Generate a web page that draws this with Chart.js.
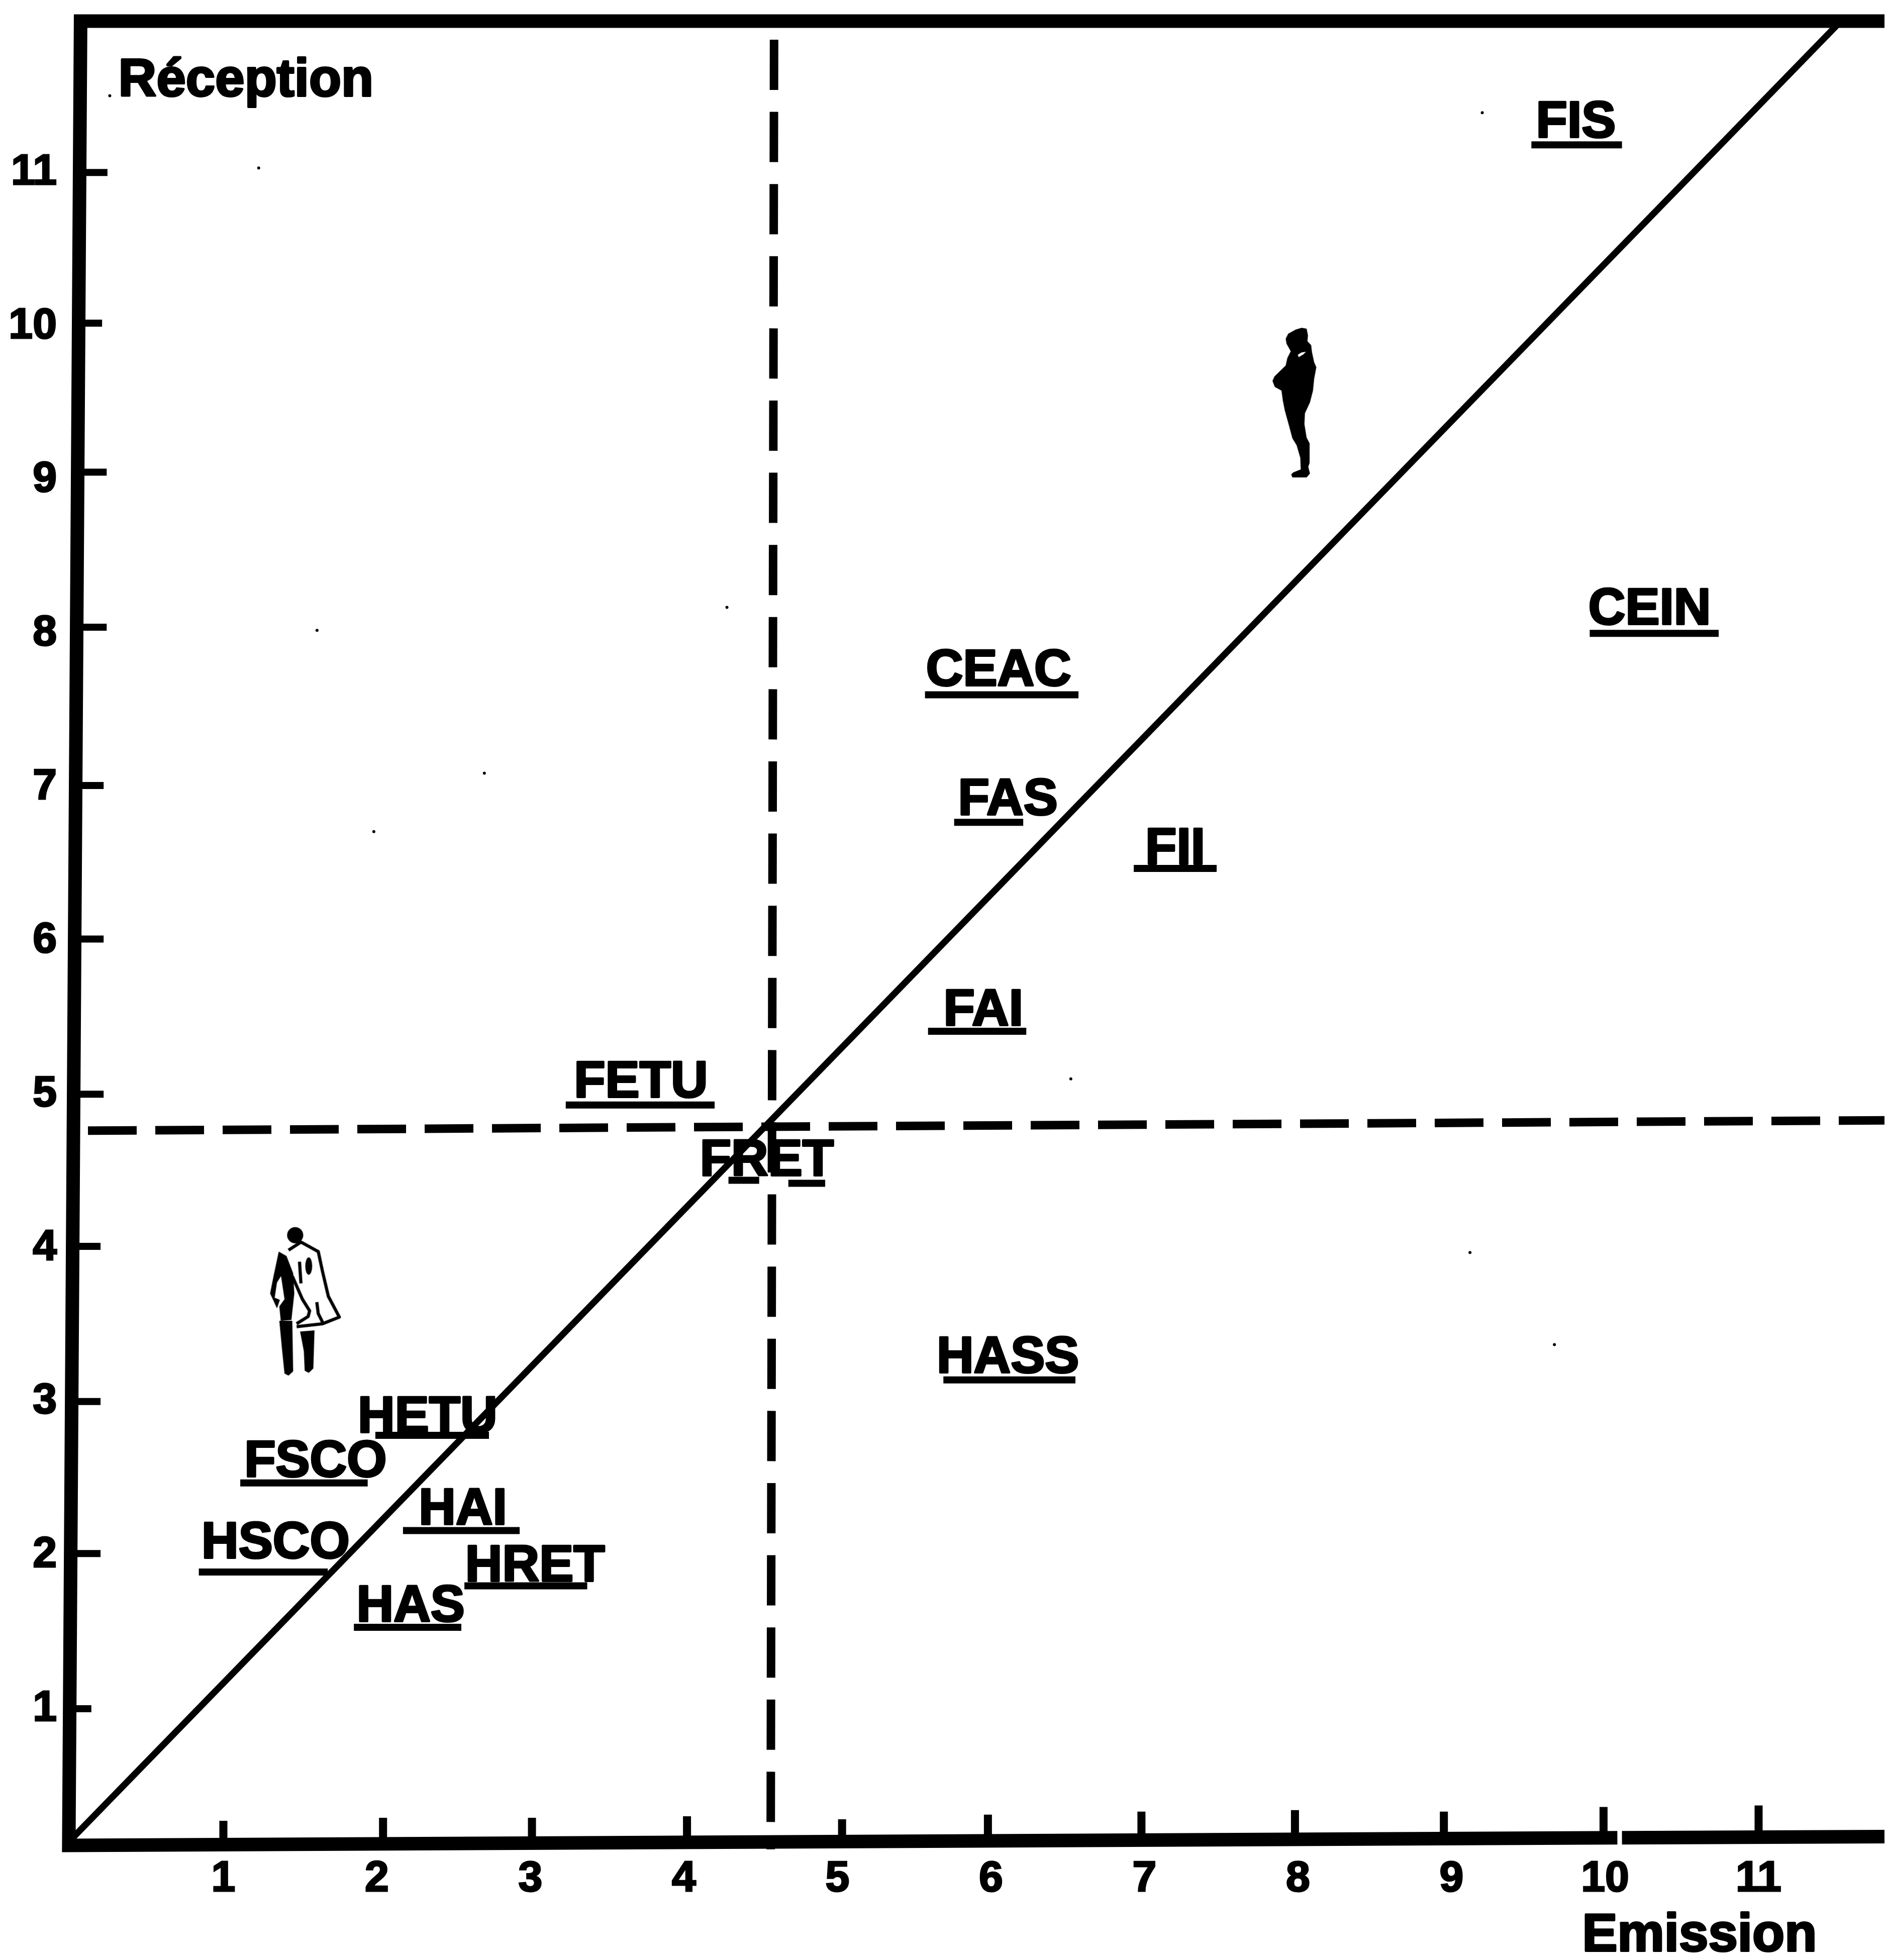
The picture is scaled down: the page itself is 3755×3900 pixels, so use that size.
<!DOCTYPE html>
<html lang="fr">
<head>
<meta charset="utf-8">
<title>Réception / Emission</title>
<script src="https://cdn.jsdelivr.net/npm/chart.js@4/dist/chart.umd.min.js"></script>
<style>
  html, body { margin: 0; padding: 0; background: #fff; }
  canvas { display: block; }
</style>
</head>
<body>
<canvas id="chart" width="3755" height="3900"></canvas>
<script>
// Data (axis units)
const tickValues = [1, 2, 3, 4, 5, 6, 7, 8, 9, 10, 11];

const labelNames = ['FIS', 'CEIN', 'CEAC', 'FAS', 'FII', 'FAI', 'FETU', 'FRET', 'HASS', 'HETU', 'FSCO', 'HSCO', 'HAI', 'HRET', 'HAS'];
const labelX = [9.81, 10.29, 6.05, 6.11, 7.20, 5.95, 3.72, 4.54, 6.11, 2.33, 1.60, 1.34, 2.56, 3.03, 2.22];
const labelY = [11.23, 8.06, 7.66, 6.82, 6.50, 5.45, 4.98, 4.47, 3.19, 2.80, 2.51, 1.98, 2.20, 1.83, 1.57];

// underlines, FRET has two pieces
const underlineStart = [9.52, 9.90, 5.57, 5.76, 6.93, 5.59, 3.23, 4.29, 4.68, 5.69, 1.99, 1.11, 0.84, 2.17, 2.57, 1.85];
const underlineEnd = [10.11, 10.74, 6.57, 6.21, 7.47, 6.23, 4.20, 4.49, 4.92, 6.55, 2.73, 1.94, 1.68, 2.93, 3.37, 2.55];
const underlineY = [11.18, 8.00, 7.60, 6.77, 6.47, 5.41, 4.93, 4.44, 4.42, 3.14, 2.78, 2.47, 1.89, 2.16, 1.80, 1.53];

const diagonalX = [0, 11.54];
const diagonalY = [0.14, 11.99];
const splitVerticalX = [4.587, 4.565];
const splitVerticalY = [11.865, 0.085];
const splitHorizontalX = [0.118, 11.82];
const splitHorizontalY = [4.763, 4.83];

// the scanned frame is slightly skewed; null = the small break in the bottom axis
const frameX = [11.82, 0.07, -0.007, 10.08, null, 10.11, 11.82];
const frameY = [11.986, 11.986, 0.11, 0.16, null, 0.16, 0.167];

// inward tick marks as they sit on the scan
const xTickAt = [1.00, 2.04, 3.01, 4.02, 5.03, 5.98, 6.98, 7.98, 8.95, 9.99, 11.00];
const xTickTop = [0.27, 0.29, 0.29, 0.30, 0.28, 0.31, 0.33, 0.34, 0.33, 0.36, 0.37];
const yTickAt = [1.00, 2.01, 3.00, 4.01, 5.00, 6.01, 7.01, 8.04, 9.05, 10.02, 11.00];
const yTickEnd = [0.14, 0.20, 0.20, 0.20, 0.22, 0.22, 0.22, 0.24, 0.24, 0.21, 0.245];

const speckX = [1.23, 9.20, 4.28, 1.61, 2.70, 1.98, 6.52, 9.12, 9.67, 0.26];
const speckY = [11.03, 11.39, 8.17, 8.02, 7.09, 6.71, 5.10, 3.97, 3.37, 11.50];

const figureX = [1.533, 8.045];
const figureY = [3.656, 9.493];

const axisTitles = ['Réception', 'Emission'];
const axisTitleX = [1.147, 10.615];
const axisTitleY = [11.50, -0.578];

const INK = '#000';
const FONT = '"Liberation Sans", Arial, sans-serif';

function points(xs, ys) {
    return xs.map((x, i) => ({ x: x, y: ys[i] }));
}

// little two-point strokes separated by gaps
function strokes(x1, y1, x2, y2) {
    const out = [];
    x1.forEach((_, i) => {
        out.push({ x: x1[i], y: y1[i] }, { x: x2[i], y: y2[i] }, { x: null, y: null });
    });
    return out;
}

function lineSet(data, width, extra) {
    return Object.assign({
        data: data,
        showLine: true,
        borderColor: INK,
        borderWidth: width,
        borderCapStyle: 'butt',
        pointRadius: 0,
        tension: 0,
        spanGaps: false,
        clip: false
    }, extra || {});
}

// Pictograms used as point styles
function shape(ctx, pts) {
    ctx.beginPath();
    pts.forEach((p, i) => (i ? ctx.lineTo(p[0], p[1]) : ctx.moveTo(p[0], p[1])));
}

function darkSuitFigure() {
    const cv = document.createElement('canvas');
    cv.width = 300;
    cv.height = 400;
    const ctx = cv.getContext('2d');
    ctx.scale(1 / 3, 1 / 3);
    ctx.fillStyle = INK;
    shape(ctx, [[430, 145], [460, 150], [468, 190], [465, 225], [487, 248], [492, 290], [505, 350], [518, 380],
        [505, 450], [498, 520], [480, 590], [450, 655], [447, 720], [460, 800], [478, 835], [478, 950], [470, 975],
        [480, 1015], [460, 1038], [375, 1038], [368, 1020], [380, 1008], [425, 990], [422, 920], [400, 845],
        [375, 805], [355, 730], [330, 640], [318, 580], [310, 520], [270, 498], [256, 462], [268, 435], [335, 370],
        [345, 325], [365, 285], [340, 240], [335, 210], [350, 180], [395, 155]]);
    ctx.closePath();
    ctx.fill();
    ctx.fillStyle = '#fff';
    shape(ctx, [[408, 305], [430, 292], [456, 288], [440, 304], [412, 320]]);
    ctx.closePath();
    ctx.fill();
    return cv;
}

function coatFigure() {
    const cv = document.createElement('canvas');
    cv.width = 172;
    cv.height = 316;
    const ctx = cv.getContext('2d');
    ctx.scale(1 / 1.742, 1 / 1.742);
    ctx.translate(-300, -50);
    ctx.fillStyle = INK;
    ctx.strokeStyle = INK;
    ctx.lineJoin = 'round';
    ctx.lineWidth = 11;
    // head
    ctx.beginPath();
    ctx.ellipse(415, 98, 28, 28, 0, 0, Math.PI * 2);
    ctx.fill();
    // coat outline
    shape(ctx, [[392, 150], [435, 122], [495, 155], [510, 225], [530, 310], [568, 382], [510, 405], [420, 415]]);
    ctx.stroke();
    shape(ctx, [[405, 240], [440, 320], [465, 360], [460, 380], [420, 405]]);
    ctx.stroke();
    shape(ctx, [[490, 330], [495, 370], [510, 400]]);
    ctx.stroke();
    shape(ctx, [[430, 190], [435, 265]]);
    ctx.stroke();
    // dark sleeve and legs
    shape(ctx, [[358, 155], [385, 170], [408, 230], [412, 300], [402, 392], [365, 395], [360, 345], [378, 320],
        [366, 240], [352, 262], [344, 315], [362, 322], [352, 352], [328, 300], [340, 240]]);
    ctx.closePath();
    ctx.fill();
    shape(ctx, [[360, 395], [405, 395], [408, 570], [392, 585], [378, 578], [370, 500]]);
    ctx.closePath();
    ctx.fill();
    shape(ctx, [[432, 432], [482, 428], [478, 560], [462, 575], [448, 568], [445, 500]]);
    ctx.closePath();
    ctx.fill();
    // pocket
    ctx.beginPath();
    ctx.ellipse(462, 205, 12, 30, 0, 0, Math.PI * 2);
    ctx.fill();
    return cv;
}

// Underlined codes and axis names, placed through the scales
const textPlugin = {
    id: 'chartText',
    afterDatasetsDraw(chart) {
        const ctx = chart.ctx;
        const sx = chart.scales.x;
        const sy = chart.scales.y;
        const put = (text, x, y) => {
            const px = sx.getPixelForValue(x);
            const py = sy.getPixelForValue(y);
            ctx.strokeText(text, px, py);
            ctx.fillText(text, px, py);
        };
        ctx.save();
        ctx.fillStyle = INK;
        ctx.strokeStyle = INK;
        ctx.lineWidth = 4;
        ctx.lineJoin = 'round';
        ctx.textAlign = 'center';
        ctx.textBaseline = 'alphabetic';
        ctx.font = 'bold 102px ' + FONT;
        labelNames.forEach((name, i) => put(name, labelX[i], labelY[i]));
        ctx.font = 'bold 105px ' + FONT;
        axisTitles.forEach((name, i) => put(name, axisTitleX[i], axisTitleY[i]));
        ctx.restore();
    }
};

function fixedTicks(scale) {
    scale.ticks = tickValues.map(v => ({ value: v }));
}

const tickFont = { family: FONT, size: 86, weight: 'bold' };

new Chart(document.getElementById('chart'), {
    type: 'scatter',
    data: {
        datasets: [
            lineSet(points(frameX, frameY), 27, { borderJoinStyle: 'miter', label: 'cadre' }),
            lineSet(points(diagonalX, diagonalY), 13, { label: 'diagonale' }),
            lineSet(points(splitVerticalX, splitVerticalY), 17, { borderDash: [100, 43.6], label: 'médiane émission' }),
            lineSet(points(splitHorizontalX, splitHorizontalY), 17, { borderDash: [97, 37], label: 'médiane réception' }),
            lineSet(strokes(xTickAt, xTickAt.map(() => 0.13), xTickAt, xTickTop), 16, { label: 'graduations x' }),
            lineSet(strokes(yTickAt.map(() => 0.03), yTickAt, yTickEnd, yTickAt), 14, { label: 'graduations y' }),
            lineSet(strokes(underlineStart, underlineY, underlineEnd, underlineY), 14, { label: 'soulignés' }),
            {
                label: 'codes',
                data: points(labelX, labelY),
                pointRadius: 0
            },
            {
                label: 'taches',
                data: points(speckX, speckY),
                pointRadius: 3,
                pointBorderWidth: 0,
                pointBackgroundColor: INK
            },
            {
                label: 'silhouettes',
                data: points(figureX, figureY),
                pointStyle: [coatFigure(), darkSuitFigure()],
                clip: false
            }
        ]
    },
    options: {
        responsive: false,
        animation: false,
        events: [],
        layout: { padding: 0 },
        plugins: {
            legend: { display: false },
            tooltip: { enabled: false },
            title: { display: false }
        },
        scales: {
            x: {
                type: 'linear',
                position: 'bottom',
                min: 0,
                max: 11.82,
                afterBuildTicks: fixedTicks,
                afterFit(scale) { scale.height = 228; },
                border: { display: false },
                grid: { display: false, drawTicks: false },
                ticks: {
                    autoSkip: false,
                    maxRotation: 0,
                    padding: 16,
                    color: INK,
                    font: tickFont,
                    textStrokeColor: INK,
                    textStrokeWidth: 3
                }
            },
            y: {
                type: 'linear',
                position: 'left',
                min: 0.11,
                max: 12.107,
                afterBuildTicks: fixedTicks,
                afterFit(scale) {
                    scale.width = 139;
                    // the top of the area has to reach the canvas edge, no room kept for the labels
                    scale.paddingTop = 0;
                    scale.paddingBottom = 0;
                },
                border: { display: false },
                grid: { display: false, drawTicks: false },
                ticks: {
                    autoSkip: false,
                    padding: 26,
                    color: INK,
                    font: tickFont,
                    textStrokeColor: INK,
                    textStrokeWidth: 3
                }
            }
        }
    },
    plugins: [textPlugin]
});
</script>
</body>
</html>
